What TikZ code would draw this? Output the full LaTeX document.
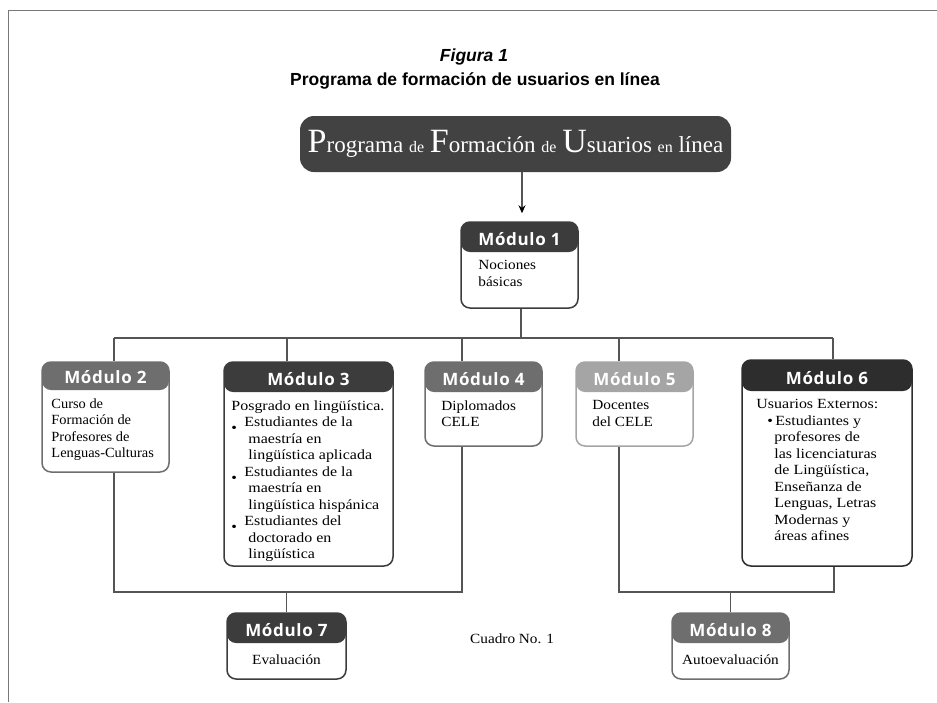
\documentclass[tikz,border=0pt]{standalone}
\usepackage{fontspec}
\setmainfont{Liberation Serif}
\newfontfamily\midfont[FakeStretch=1.09]{Liberation Serif}
\newfontfamily\widefont[FakeStretch=1.14]{Liberation Serif}
\newfontfamily\narfont[FakeStretch=1.03]{Liberation Serif}
\newfontfamily\hdrfont[LetterSpace=4.0]{Open Sans}
\newfontfamily\capfont{Liberation Sans}
\usetikzlibrary{arrows.meta, positioning, calc}
\definecolor{frameline}{RGB}{120,120,120}
\definecolor{linkgray}{RGB}{85,85,85}
\definecolor{topbg}{RGB}{66,66,66}
\definecolor{hdrdark}{RGB}{60,60,60}
\definecolor{hdrblack}{RGB}{45,45,45}
\definecolor{hdrmid}{RGB}{110,110,110}
\definecolor{hdrlight}{RGB}{165,165,165}
\newcommand{\bigc}[1]{{\fontsize{34}{34}\selectfont #1}}
\newcommand{\smw}[1]{{\fontsize{16}{16}\selectfont #1}}
\newcommand{\bulA}{\makebox[13pt][l]{\raisebox{-6pt}{\textbullet}}}
\newcommand{\indA}{\hspace*{17pt}}
\newcommand{\bulB}{\hspace*{11pt}\makebox[8pt][l]{\textbullet}}
\newcommand{\indB}{\hspace*{18pt}}
\tikzset{
  modbox/.style 2 args={draw=#1, fill=white, line width=1.5pt, rounded corners=9pt, inner sep=0pt,
    path picture={\fill[#1] ([yshift=2pt]path picture bounding box.north west) rectangle ([yshift=-#2]path picture bounding box.north east);}},
  modtitle/.style={text=white, font=\hdrfont\bfseries\fontsize{17}{17}\selectfont, inner sep=0pt, anchor=base},
  modtext/.style={align=left, inner sep=0pt, font=#1\fontsize{14}{16.5}\selectfont, anchor=north west},
  modtext/.default=\midfont,
  conn/.style={draw=linkgray, line width=1.3pt},
}
\begin{document}
\begin{tikzpicture}[x=1pt, y=-1pt]
    \useasboundingbox (0,0) rectangle (937,702);
    % Frame
    \draw[frameline, line width=1.8pt] (937,10.5) -- (8.5,10.5) -- (8.5,702);

    % Caption
    \node[font=\capfont\bfseries\itshape\fontsize{17.5}{17.5}\selectfont, anchor=base] (fig) at (474,61) {Figura 1};
    \node[font=\capfont\bfseries\fontsize{17.5}{17.5}\selectfont, anchor=base] (sub) at (475,85) {Programa de formación de usuarios en línea};

    % Program box
    \node[fill=topbg, rounded corners=14pt, text=white, minimum width=431pt, minimum height=56pt, inner sep=0pt, font=\fontsize{23}{23}\selectfont] (top) at (515.5,144)
        {\bigc{P}rograma \smw{de} \bigc{F}ormación \smw{de} \bigc{U}suarios \smw{en} línea};

    % Modules
    \node[modbox={hdrdark}{30pt}, minimum width=117pt, minimum height=86pt] (m1) at (519.5,265) {};
    \node[modbox={hdrmid}{28pt}, minimum width=127pt, minimum height=110pt] (m2) at (105.5,417) {};
    \node[modbox={hdrdark}{30pt}, minimum width=169pt, minimum height=204pt] (m3) at (308.5,464) {};
    \node[modbox={hdrmid}{30pt}, minimum width=117pt, minimum height=84pt] (m4) at (483.5,404) {};
    \node[modbox={hdrlight}{30pt}, minimum width=117pt, minimum height=84pt] (m5) at (634.5,404) {};
    \node[modbox={hdrblack}{31pt}, minimum width=170pt, minimum height=206pt] (m6) at (827,463) {};
    \node[modbox={hdrdark}{30pt}, minimum width=119pt, minimum height=66pt] (m7) at (286.5,646) {};
    \node[modbox={hdrmid}{30pt}, minimum width=117pt, minimum height=66pt] (m8) at (730.5,646) {};

    % Titles
    \foreach \m/\n/\dy in {m1/1/24, m2/2/22, m3/3/24, m4/4/24, m5/5/24, m6/6/25, m7/7/24, m8/8/24} {
        \node[modtitle] (\m t) at ([yshift=-\dy pt]\m.north) {Módulo \n};
    }

    % Texts
    \node[modtext] (m1b) at ([xshift=18pt, yshift=-39pt]m1.north west) {Nociones\\básicas};
    \node[modtext=\narfont] (m2b) at ([xshift=10pt, yshift=-37pt]m2.north west) {Curso de\\Formación de\\Profesores de\\Lenguas-Culturas};
    \node[modtext=\widefont] (m3b) at ([xshift=8pt, yshift=-39pt]m3.north west)
        {Posgrado en lingüística.\\
         \bulA Estudiantes de la\\ \indA maestría en\\ \indA lingüística aplicada\\
         \bulA Estudiantes de la\\ \indA maestría en\\ \indA lingüística hispánica\\
         \bulA Estudiantes del\\ \indA doctorado en\\ \indA lingüística};
    \node[modtext] (m4b) at ([xshift=17pt, yshift=-39pt]m4.north west) {Diplomados\\CELE};
    \node[modtext] (m5b) at ([xshift=17pt, yshift=-39pt]m5.north west) {Docentes\\del CELE};
    \node[modtext=\widefont] (m6b) at ([xshift=15pt, yshift=-40pt]m6.north west)
        {Usuarios Externos:\\
         \bulB Estudiantes y\\ \indB profesores de\\ \indB las licenciaturas\\ \indB de Lingüística,\\
         \indB Enseñanza de\\ \indB Lenguas, Letras\\ \indB Modernas y\\ \indB áreas afines};
    \node[font=\midfont\fontsize{14}{14}\selectfont, inner sep=0pt, anchor=base] (m7b) at ([yshift=15pt]m7.south) {Evaluación};
    \node[font=\midfont\fontsize{14}{14}\selectfont, inner sep=0pt, anchor=base] (m8b) at ([yshift=15pt]m8.south) {Autoevaluación};
    \node[font=\midfont\fontsize{14}{14}\selectfont, inner sep=0pt, anchor=base west] (cuadro) at (470,643) {Cuadro No. 1};

    % Connectors
    \draw[conn, -{Stealth[length=8pt, width=7pt, black]}, shorten >=8pt] (top.south -| 522,0) -- (m1.north -| 522,0);
    \coordinate (b1) at (521,338);
    \coordinate (b2) at (114,338);
    \coordinate (b3) at (287,338);
    \coordinate (b4) at (462,338);
    \coordinate (b5) at (619,338);
    \coordinate (b6) at (833,338);
    \draw[conn] (m1.south -| b1) -- (b1);
    \draw[conn] (b2) -- (b6);
    \foreach \b/\m in {b2/m2, b3/m3, b4/m4, b5/m5, b6/m6} {
        \draw[conn] (\b) -- (\b |- \m.north);
    }
    \coordinate (c2) at (114,592);
    \coordinate (c4) at (462,592);
    \coordinate (c5) at (619,592);
    \coordinate (c6) at (834,592);
    \draw[conn] (m2.south -| c2) -- (c2) -- (c4) -- (m4.south -| c4);
    \draw[conn] (m5.south -| c5) -- (c5) -- (c6) -- (m6.south -| c6);
    \draw[conn] (m7.north |- c2) -- (m7.north);
    \draw[conn] (m8.north |- c5) -- (m8.north);
\end{tikzpicture}
\end{document}
